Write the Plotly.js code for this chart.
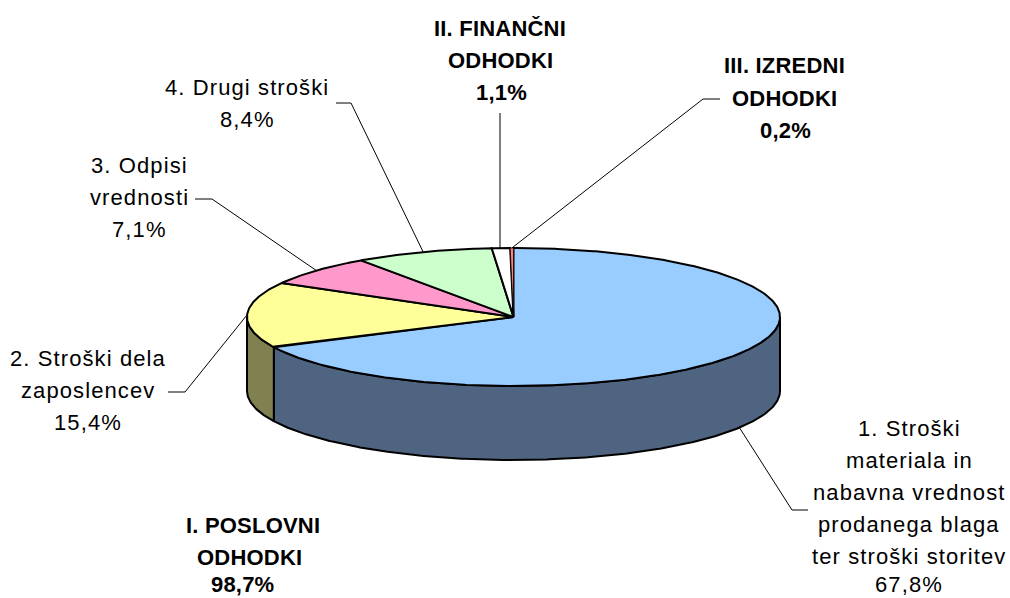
<!DOCTYPE html>
<html><head><meta charset="utf-8">
<script src="https://cdn.plot.ly/plotly-3.0.1.min.js"></script>
<style>html,body{margin:0;padding:0;background:#fff}
.annotation-text{letter-spacing:1.1px}
.annotation-text tspan{letter-spacing:0.2px}
</style></head>
<body><div id="chart" style="width:1010px;height:598px"></div>
<script>
// Data (clockwise from 12 o'clock)
const categories = ["1. Stroški materiala in nabavna vrednost prodanega blaga ter stroški storitev","2. Stroški dela zaposlencev","3. Odpisi vrednosti","4. Drugi stroški","II. FINANČNI ODHODKI","III. IZREDNI ODHODKI"];
const values = [67.8, 15.4, 7.1, 8.4, 1.1, 0.2];
const topColors = ["#99CCFF","#FFFF99","#FF99CC","#CCFFCC","#FFFFFF","#FF8080"];
const sideColors = ["#4F6480","#808050","#804D66","#668066","#808080","#804040"];

// Text lines: [text, x, y, bold]
const textLines = [
  ["1. Stroški",909,428,0],["materiala in",909,460,0],["nabavna vrednost",909,492,0],["prodanega blaga",909,524,0],["ter stroški storitev",909,556,0],["67,8%",909,584,0],
  ["2. Stroški dela",88,358,0],["zaposlencev",88,390,0],["15,4%",88,422,0],
  ["3. Odpisi",139,165,0],["vrednosti",139,197,0],["7,1%",139,229,0],
  ["4. Drugi stroški",247,87,0],["8,4%",247,119,0],
  ["II. FINANČNI",500,28,1],["ODHODKI",500,60,1],["1,1%",501,92,1],
  ["III. IZREDNI",784,65,1],["ODHODKI",784,98,1],["0,2%",785,130,1],
  ["I. POSLOVNI",253,525,1],["ODHODKI",249,557,1],["98,7%",242,584,1]
];

// Leader routes per slice: label end x, end y, elbow x (null = straight)
const leaderEnds = [[808,510,792],[168,392,185],[195,199,212],[336,103,351],[500,113,null],[720,99,703]];

// Pie geometry
const cx=513.5, cy=317, rx=266.5, ry=69, depth=74;
const px=a=>cx+rx*Math.sin(a*Math.PI/180);
const py=a=>cy-ry*Math.cos(a*Math.PI/180);
const total=values.reduce((s,v)=>s+v,0);
let acc=0;
const slices=values.map(v=>{const s=acc/total*360;acc+=v;return {s,e:acc/total*360};});
const arc=(a,b)=>{const out=[];const n=Math.max(2,Math.ceil(Math.abs(b-a)*2));for(let i=0;i<=n;i++)out.push(a+(b-a)*i/n);return out;};

const traces=[];
const poly=(xs,ys,fill,lw)=>traces.push({type:"scatter",mode:"lines",x:xs,y:ys,fill:"toself",fillcolor:fill,
  line:{color:"#000",width:lw,shape:"linear"},hoverinfo:"skip",showlegend:false});

// Front wall
slices.forEach((sl,i)=>{
  const a=Math.max(sl.s,90), b=Math.min(sl.e,270);
  if(b<=a) return;
  const t=arc(a,b), r=t.slice().reverse();
  poly([...t.map(px),...r.map(px),px(a)],[...t.map(py),...r.map(q=>py(q)+depth),py(a)],sideColors[i],2);
});
// Top
slices.forEach((sl,i)=>{
  const t=arc(sl.s,sl.e);
  poly([cx,...t.map(px),cx],[cy,...t.map(py),cy],topColors[i],i===5?0.75:2);
});
// Leaders
slices.forEach((sl,i)=>{
  const m=(sl.s+sl.e)/2;
  const onFront=m>90&&m<270;
  const x0=px(m), y0=py(m)+(onFront&&i===0?depth:0);
  const [ex,ey,elb]=leaderEnds[i];
  const xs=elb===null?[ex,ex]:[x0,elb,ex];
  const ys=elb===null?[y0,ey]:[y0,ey,ey];
  traces.push({type:"scatter",mode:"lines",x:xs,y:ys,line:{color:"#000",width:1},hoverinfo:"skip",showlegend:false});
});

const annotations=textLines.map(([t,x,y,b])=>({text:b?"<b>"+t+"</b>":t,x,y,xref:"x",yref:"y",showarrow:false,
  xanchor:"center",yanchor:"middle",font:{family:"Liberation Sans, Arial, sans-serif",size:22,color:"#000"}}));

Plotly.newPlot("chart",traces,{
  width:1010,height:598,margin:{l:0,r:0,t:0,b:0},paper_bgcolor:"#fff",plot_bgcolor:"#fff",showlegend:false,
  xaxis:{visible:false,range:[0,1010],fixedrange:true},
  yaxis:{visible:false,range:[598,0],fixedrange:true},
  annotations
},{displayModeBar:false,staticPlot:true});
</script></body></html>
